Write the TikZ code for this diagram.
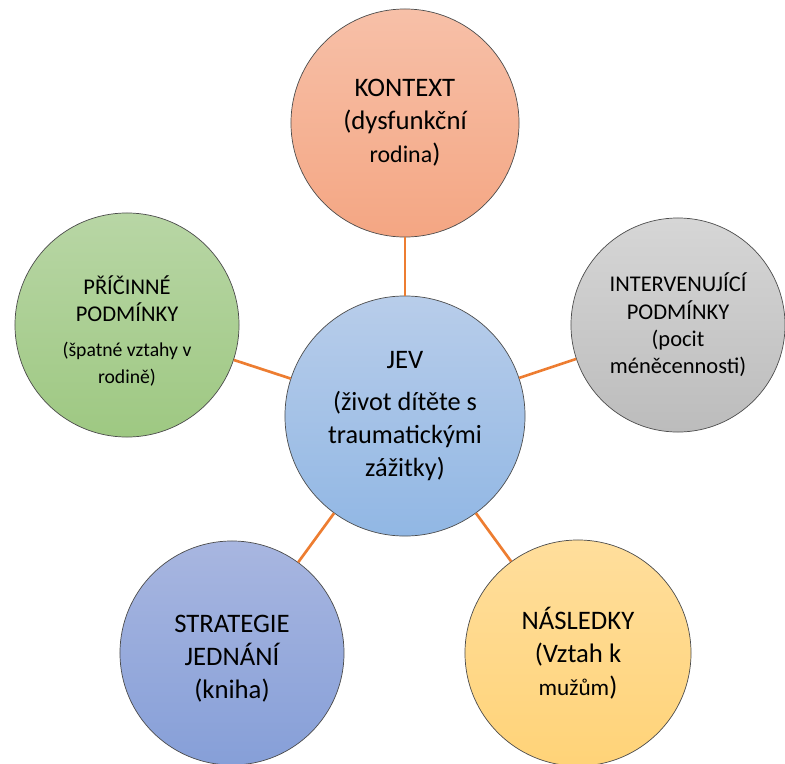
\documentclass[tikz,border=0pt]{standalone}
\usepackage{fontspec}
\setmainfont{Carlito}
\usepackage{xcolor}
\usetikzlibrary{positioning}

\definecolor{linkorange}{HTML}{ED7D31}
\definecolor{kontextTop}{RGB}{247,192,168}
\definecolor{kontextBot}{RGB}{244,166,131}
\definecolor{grayTop}{RGB}{214,214,214}
\definecolor{grayBot}{RGB}{188,188,188}
\definecolor{greenTop}{RGB}{184,214,165}
\definecolor{greenBot}{RGB}{158,200,130}
\definecolor{jevTop}{RGB}{184,205,234}
\definecolor{jevBot}{RGB}{145,183,228}
\definecolor{stratTop}{RGB}{168,182,224}
\definecolor{stratBot}{RGB}{134,159,216}
\definecolor{yellowTop}{RGB}{255,222,156}
\definecolor{yellowBot}{RGB}{255,211,120}

\begin{document}
\begin{tikzpicture}[x=0.025cm, y=-0.025cm,
    bubble/.style={circle, draw=black!70, line width=0.5pt, inner sep=0pt, align=center},
    bigtext/.style={font=\fontsize{19}{23.5}\selectfont},
    smalltext/.style={font=\fontsize{16}{19.5}\selectfont},
    link/.style={draw=linkorange, line width=1.9pt}
  ]
    \useasboundingbox (0,0) rectangle (785,764);

    % Center
    \node[bubble, bigtext, minimum size=6cm, top color=jevTop, bottom color=jevBot] (jev) at (405, 416) {
      JEV\\[6pt]
      {\fontsize{18.7}{19.5}\selectfont (život dítěte s}\\
      {\fontsize{18.7}{19.5}\selectfont traumatickými}\\
      {\fontsize{18.7}{19.5}\selectfont zážitky)}
    };

    % Context
    \node[bubble, bigtext, minimum size=5.7cm, top color=kontextTop, bottom color=kontextBot] (kontext) at (405, 123) {
      KONTEXT\\
      (dysfunkční\\
      {\fontsize{17}{23.5}\selectfont rodina})
    };

    % Intervening conditions
    \node[bubble, smalltext, minimum size=5.35cm, top color=grayTop, bottom color=grayBot] (interv) at (678, 325) {
      INTERVENUJÍCÍ\\
      PODMÍNKY\\
      (pocit\\
      méněcennosti)
    };

    % Causal conditions
    \node[bubble, smalltext, minimum size=5.6cm, top color=greenTop, bottom color=greenBot] (pricinne) at (127, 325) {
      \rule{0pt}{22pt}PŘÍČINNÉ\\
      PODMÍNKY\\[5pt]
      {\fontsize{14}{19}\selectfont (špatné vztahy v}\\
      {\fontsize{14}{19}\selectfont rodině)}
    };

    % Strategies
    \node[bubble, bigtext, minimum size=5.6cm, top color=stratTop, bottom color=stratBot] (strategie) at (232, 653) {
      \rule{0pt}{20pt}STRATEGIE\\
      JEDNÁNÍ\\
      (kniha)
    };

    % Consequences
    \node[bubble, bigtext, minimum size=5.65cm, top color=yellowTop, bottom color=yellowBot] (nasledky) at (578, 653) {
      NÁSLEDKY\\
      (Vztah k\\
      {\fontsize{16.5}{23.5}\selectfont mužům})
    };

    % Links
    \draw[link] (jev) -- (kontext);
    \draw[link] (jev) -- (interv);
    \draw[link] (jev) -- (pricinne);
    \draw[link] (jev) -- (strategie);
    \draw[link] (jev) -- (nasledky);

\end{tikzpicture}
\end{document}
